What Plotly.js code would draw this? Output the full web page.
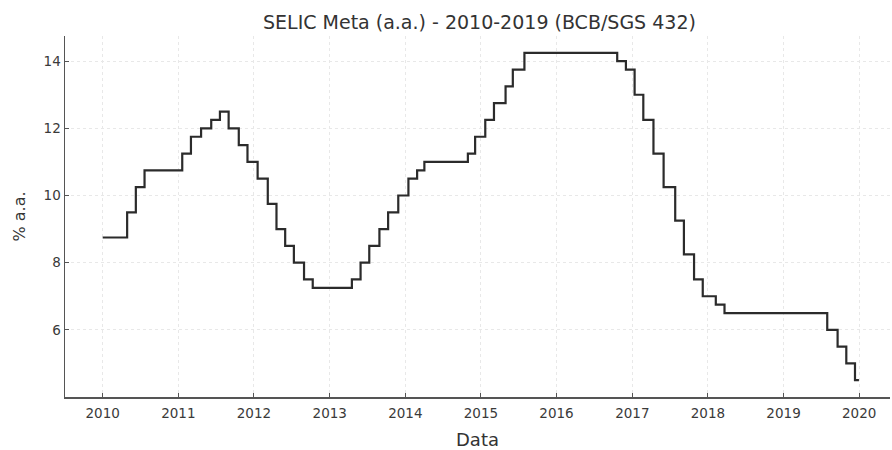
<!DOCTYPE html>
<html>
<head>
<meta charset="utf-8">
<script src="https://cdn.plot.ly/plotly-3.0.1.min.js"></script>
<style>html,body{margin:0;padding:0;background:#fff;}#chart{width:892px;height:450px;}</style>
</head>
<body>
<div id="chart"></div>
<script>
// Dates of SELIC target changes (BCB/SGS 432) and the rate in force from each date
const dates = ['2010-01-01','2010-04-29','2010-06-10','2010-07-22','2011-01-20','2011-03-03','2011-04-21','2011-06-09','2011-07-21','2011-09-01','2011-10-20','2011-12-01','2012-01-19','2012-03-08','2012-04-19','2012-05-31','2012-07-12','2012-08-30','2012-10-11','2013-04-18','2013-05-30','2013-07-11','2013-08-29','2013-10-10','2013-11-28','2014-01-16','2014-02-27','2014-04-03','2014-10-30','2014-12-04','2015-01-22','2015-03-05','2015-04-30','2015-06-04','2015-07-30','2016-10-20','2016-12-01','2017-01-12','2017-02-23','2017-04-13','2017-06-01','2017-07-27','2017-09-07','2017-10-26','2017-12-07','2018-02-08','2018-03-22','2019-07-31','2019-09-19','2019-10-31','2019-12-12','2019-12-31'];
const selic = [8.75,9.50,10.25,10.75,11.25,11.75,12.00,12.25,12.50,12.00,11.50,11.00,10.50,9.75,9.00,8.50,8.00,7.50,7.25,7.50,8.00,8.50,9.00,9.50,10.00,10.50,10.75,11.00,11.25,11.75,12.25,12.75,13.25,13.75,14.25,14.00,13.75,13.00,12.25,11.25,10.25,9.25,8.25,7.50,7.00,6.75,6.50,6.00,5.50,5.00,4.50,4.50];
const xTickVals = ['2010-01-01','2011-01-01','2012-01-01','2013-01-01','2014-01-01','2015-01-01','2016-01-01','2017-01-01','2018-01-01','2019-01-01','2020-01-01'];
const xTickText = ['2010','2011','2012','2013','2014','2015','2016','2017','2018','2019','2020'];
const yTickVals = [6,8,10,12,14];

const FONT = '"DejaVu Sans", sans-serif';
const trace = {
  x: dates, y: selic, type: 'scatter', mode: 'lines',
  line: {shape: 'hv', color: '#2b2b2b', width: 2.2},
  hoverinfo: 'x+y', showlegend: false
};
const layout = {
  width: 892, height: 450,
  margin: {l: 65, r: 2, t: 36, b: 53},
  paper_bgcolor: '#ffffff', plot_bgcolor: '#ffffff',
  font: {family: FONT, color: '#3a3a3a', size: 13},
  title: {text: 'SELIC Meta (a.a.) - 2010-2019 (BCB/SGS 432)', x: 0.5375, xanchor: 'center', y: 0.95, yanchor: 'middle', font: {family: FONT, size: 19, color: '#333333'}},
  xaxis: {
    type: 'date', range: ['2009-07-03', '2020-05-29'],
    tickvals: xTickVals, ticktext: xTickText,
    showgrid: true, gridcolor: '#e8e8e8', griddash: 'dot', gridwidth: 1,
    showline: true, linecolor: '#555555', linewidth: 1.5,
    ticks: 'inside', ticklen: 4, tickcolor: '#555555',
    ticklabelstandoff: 3,
    zeroline: false,
    tickfont: {family: FONT, size: 13.5, color: '#3a3a3a'},
    title: {text: 'Data', font: {family: FONT, size: 18, color: '#333333'}, standoff: 15}
  },
  yaxis: {
    range: [4.0, 14.75],
    tickvals: yTickVals,
    showgrid: true, gridcolor: '#e8e8e8', griddash: 'dot', gridwidth: 1,
    showline: true, linecolor: '#555555', linewidth: 1.5,
    ticks: 'inside', ticklen: 4, tickcolor: '#555555',
    zeroline: false,
    tickfont: {family: FONT, size: 13.5, color: '#3a3a3a'},
    title: {text: '% a.a.', font: {family: FONT, size: 16, color: '#333333'}, standoff: 14}
  }
};
Plotly.newPlot('chart', [trace], layout, {displayModeBar: false, staticPlot: true});
</script>
</body>
</html>
